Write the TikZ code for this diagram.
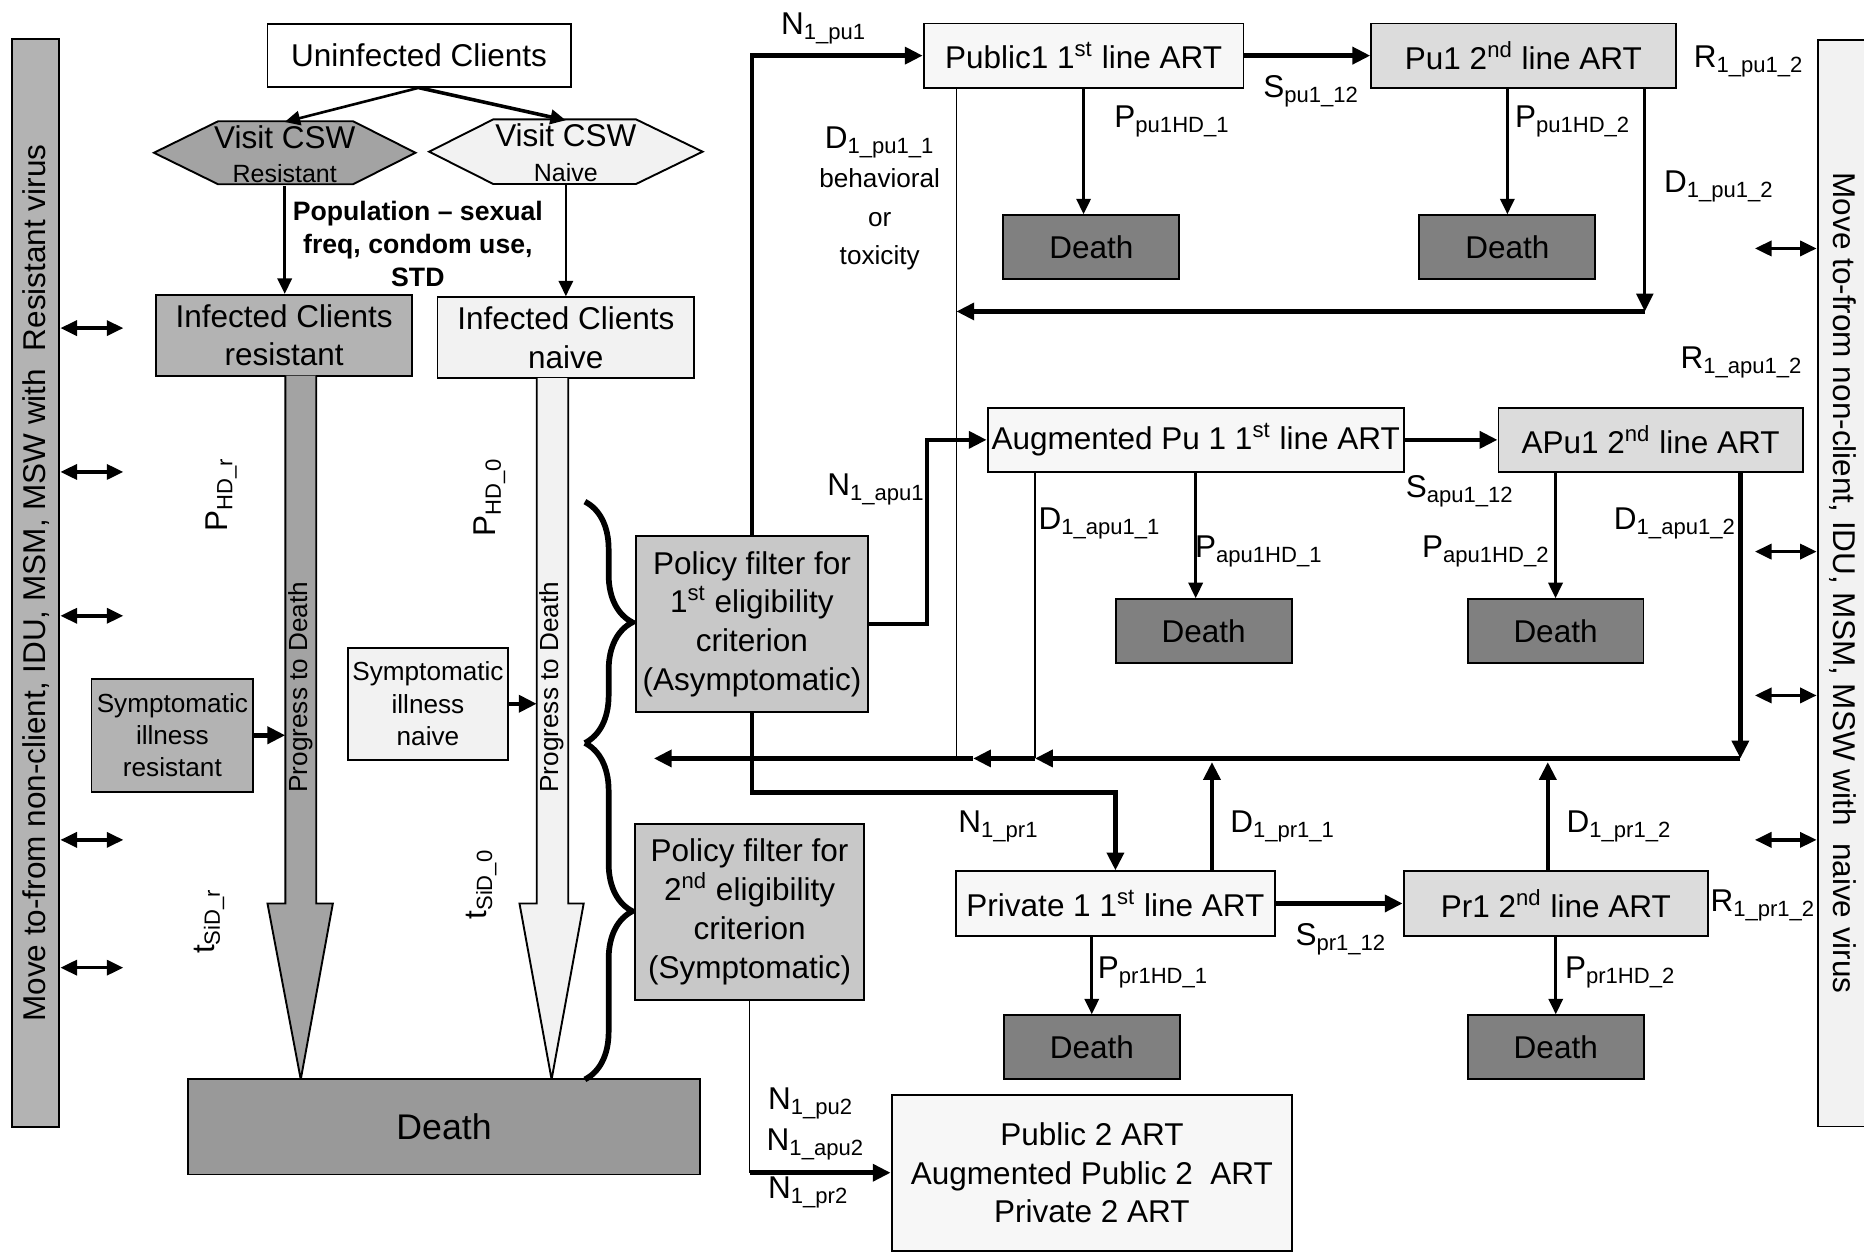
\documentclass[tikz,border=0pt]{standalone}
\usepackage{fontspec}
\setmainfont{Liberation Sans}
\usetikzlibrary{arrows.meta,decorations.pathreplacing}
\definecolor{resist}{RGB}{179,179,179}
\definecolor{resistdark}{RGB}{163,163,163}
\definecolor{naive}{RGB}{242,242,242}
\definecolor{firstline}{RGB}{247,247,247}
\definecolor{secondline}{RGB}{220,220,220}
\definecolor{policy}{RGB}{200,200,200}
\definecolor{deathsmall}{RGB}{128,128,128}
\definecolor{deathbig}{RGB}{153,153,153}
\newcommand\boxfont{\fontsize{13.25}{16.3}\selectfont}
\newcommand\midfont{\fontsize{11}{13.6}\selectfont}
\newcommand\hexfont{\fontsize{10.5}{12}\selectfont}
\newcommand\popfont{\fontsize{11.2}{13.8}\selectfont\bfseries}
\newcommand\bigfont{\fontsize{15}{18}\selectfont}
\tikzset{
    cell/.style = {
        draw,
        line width=0.8pt,
        inner sep=0pt,
        align=center,
        font=\boxfont,
        },
    first line/.style = {
        cell,
        fill = firstline,
        minimum height=27pt,
        },
    second line/.style = {
        cell,
        fill = secondline,
        minimum width=128pt,
        minimum height=27pt,
        },
    death/.style = {
        cell,
        fill = deathsmall,
        minimum width=74pt,
        minimum height=27pt,
        },
    policy box/.style = {
        cell,
        fill = policy,
        minimum height=74pt,
        },
    rate/.style = {
        inner sep=0pt,
        align=center,
        font=\boxfont,
        },
    flow edge/.style = {
        line width=1.9pt,
        -{Triangle[length=7.5pt,width=7pt]},
        },
    drop edge/.style = {
        line width=1.1pt,
        -{Triangle[length=6.5pt,width=6pt]},
        },
    thin edge/.style = {
        line width=0.6pt,
        },
    swap edge/.style = {
        line width=1.5pt,
        {Triangle[length=7pt,width=6.3pt]}-{Triangle[length=7pt,width=6.3pt]},
        },
    shape line/.style = {
        line width=0.8pt,
        },
}
\begin{document}
\begin{tikzpicture}[x=0.5pt, y=-0.5pt]
            \useasboundingbox (0,0) rectangle (1568,1054);

            \node[cell, fill=resist, minimum width=20pt, minimum height=457.5pt] (barL) at (30,490.5) {};
            \node[rate, rotate=90] (barLtext) at (barL) {Move to-from non-client, IDU, MSM, MSW with\ \ Resistant virus};
            \node[cell, fill=naive, minimum width=21pt, minimum height=457pt] (barR) at (1550,490.6) {};
            \node[rate, rotate=-90] (barRtext) at (barR) {Move to-from non-client, IDU, MSM, MSW with\ \ naive virus};

            \node[cell, fill=white, minimum width=127.5pt, minimum height=26.5pt] (uninf) at (352.5,46.5) {Uninfected Clients};
            \draw[shape line, fill=resistdark] (129.5,128.5) -- (183.5,102) -- (297,102) -- (349.5,128.5) -- (297,155) -- (183.5,155) -- cycle;
            \node[rate, minimum height=26.5pt] (visR) at (239.5,129.5) {Visit CSW\\[-1.8pt]{\hexfont Resistant}};
            \draw[shape line, fill=naive] (361,127.6) -- (415,100.4) -- (535,100.4) -- (591,127.6) -- (535,154.8) -- (415,154.8) -- cycle;
            \node[rate, minimum height=27pt] (visN) at (476,128.6) {Visit CSW\\[-1.8pt]{\hexfont Naive}};
            \node[rate, font=\popfont] (pop) at (351.5,205) {Population -- sexual\\freq, condom use,\\STD};
            \node[cell, fill=resist, minimum width=107.5pt, minimum height=34pt] (infR) at (239,282) {Infected Clients\\resistant};
            \node[cell, fill=naive, minimum width=108pt, minimum height=34pt] (infN) at (476,284) {Infected Clients\\naive};

            \draw[shape line, fill=resistdark] (240,316) -- (240,760) -- (225,760) -- (253,908) -- (280,760) -- (266,760) -- (266,316);
            \draw[shape line, fill=naive] (451.5,318) -- (451.5,760) -- (437,760) -- (464,908) -- (491,760) -- (478,760) -- (478,318);
            \node[rate, rotate=90, font=\midfont] (progR) at (253,578) {Progress to Death};
            \node[rate, rotate=90, font=\midfont] (progN) at (464.5,578) {Progress to Death};
            \node[cell, fill=resist, font=\midfont, minimum width=68pt, minimum height=47.5pt] (sympR) at (145,618.5) {Symptomatic\\illness\\resistant};
            \node[cell, fill=naive, font=\midfont, minimum width=67pt, minimum height=47pt] (sympN) at (360,592) {Symptomatic\\illness\\naive};
            \node[cell, fill=deathbig, font=\bigfont, minimum width=215.5pt, minimum height=40pt] (deathB) at (373.5,948) {Death};
            \coordinate (shaftR) at (240,618.5);
            \coordinate (shaftN) at (451.5,592);

            \node[rate, rotate=90] (pHDr) at (186,416) {P\textsubscript{HD\_r}};
            \node[rate, rotate=90] (pHD0) at (412,418) {P\textsubscript{HD\_0}};
            \node[rate, rotate=90] (tSiDr) at (176,775) {t\textsubscript{SiD\_r}};
            \node[rate, rotate=90] (tSiD0) at (405,744) {t\textsubscript{SiD\_0}};

            \draw[line width=2.4pt, decorate, decoration={brace, amplitude=20pt}] (492,422) -- (492,625);
            \draw[line width=2.4pt, decorate, decoration={brace, amplitude=20pt}] (492,625) -- (492,908);
            \node[policy box, minimum width=97.5pt] (pfA) at (632.5,525) {Policy filter for\\1\textsuperscript{st} eligibility\\criterion\\(Asymptomatic)};
            \node[policy box, minimum width=96pt] (pfS) at (630.5,767) {Policy filter for\\2\textsuperscript{nd} eligibility\\criterion\\(Symptomatic)};

            \node[first line, minimum width=134.5pt] (pub1) at (911.5,46.8) {Public1 1\textsuperscript{st} line ART};
            \node[second line] (pu1b) at (1281.5,46.8) {Pu1 2\textsuperscript{nd} line ART};
            \node[death] (deathPu1a) at (918,208) {Death};
            \node[death] (deathPu1b) at (1268,208) {Death};
            \node[first line, minimum width=175pt] (aug1) at (1005.8,370) {Augmented Pu 1 1\textsuperscript{st} line ART};
            \node[second line] (apu1b) at (1388.5,370) {APu1 2\textsuperscript{nd} line ART};
            \node[death] (deathApu1a) at (1012.5,531) {Death};
            \node[death] (deathApu1b) at (1308.5,531) {Death};
            \node[first line, minimum width=134.3pt] (pr1) at (938.3,760) {Private 1 1\textsuperscript{st} line ART};
            \node[second line] (pr1b) at (1308.7,760) {Pr1 2\textsuperscript{nd} line ART};
            \node[death] (deathPr1a) at (918.4,881) {Death};
            \node[death] (deathPr1b) at (1308.7,881) {Death};
            \node[cell, fill=firstline, minimum width=168.5pt, minimum height=65.5pt] (pub2) at (918.5,986.5) {Public 2 ART\\Augmented Public 2\ \ ART\\Private 2 ART};

            \coordinate (dpuC) at (1383.6,262);
            \coordinate (retA) at (804.5,638);
            \coordinate (retM) at (818.6,638);
            \coordinate (retB) at (870.6,638);
            \coordinate (retR) at (1464,638);
            \coordinate (retE) at (550,638);
            \coordinate (upA) at (1019.5,641);
            \coordinate (upB) at (1302,641);
            \coordinate (pfSturn) at (pfS.south |- pub2.west);

            \draw[drop edge] (uninf.south) -- (visR.north);
            \draw[drop edge, line width=1.5pt] (uninf.south) -- (visN.north);
            \draw[drop edge] (visR.south) -- (visR.south |- infR.north);
            \draw[drop edge] (visN.south) -- (visN.south |- infN.north);
            \draw[flow edge] (sympR.east) -- (shaftR);
            \draw[flow edge] (sympN.east) -- (shaftN);

            \draw[swap edge] (barL.east |- 0,276) -- ++(53,0);
            \draw[swap edge] (barL.east |- 0,397) -- ++(53,0);
            \draw[swap edge] (barL.east |- 0,518) -- ++(53,0);
            \draw[swap edge] (barL.east |- 0,706.5) -- ++(53,0);
            \draw[swap edge] (barL.east |- 0,814) -- ++(53,0);
            \draw[swap edge] (barR.west |- 0,209) -- ++(-52,0);
            \draw[swap edge] (barR.west |- 0,464) -- ++(-52,0);
            \draw[swap edge] (barR.west |- 0,585) -- ++(-52,0);
            \draw[swap edge] (barR.west |- 0,706.5) -- ++(-52,0);

            \draw[flow edge] (pfA.north) |- (pub1.west);
            \draw[flow edge] (pfA.east) -- ++(49,0) |- (aug1.west);
            \draw[flow edge] (pfA.south) -- ++(0,67) -| (pr1.north);
            \draw[thin edge] (pfS.south) -- (pfSturn);
            \draw[flow edge] (pfSturn) -- (pub2.west);

            \draw[flow edge] (pub1.east) -- (pu1b.west);
            \draw[flow edge] (aug1.east) -- (apu1b.west);
            \draw[flow edge] (pr1.east) -- (pr1b.west);
            \draw[drop edge] (pub1.south) -- (pub1.south |- deathPu1a.north);
            \draw[drop edge] (deathPu1b.north |- pu1b.south) -- (deathPu1b.north);
            \draw[drop edge] (aug1.south) -- (aug1.south |- deathApu1a.north);
            \draw[drop edge] (deathApu1b.north |- apu1b.south) -- (deathApu1b.north);
            \draw[drop edge] (deathPr1a.north |- pr1.south) -- (deathPr1a.north);
            \draw[drop edge] (pr1b.south) -- (deathPr1b.north);

            \draw[thin edge] (pub1.south -| retA) -- (retA);
            \draw[thin edge] (aug1.south -| retB) -- (retB);
            \draw[flow edge, line width=1.4pt] (pu1b.south -| dpuC) -- (dpuC);
            \draw[flow edge] (dpuC) -- (dpuC -| retA);
            \draw[flow edge] (apu1b.south -| retR) -- (retR);
            \draw[flow edge] (retR) -- (retB);
            \draw[flow edge] (retB) -- (retM);
            \draw[flow edge] (retM) -- (retE);
            \draw[flow edge] (pr1.north -| upA) -- (upA);
            \draw[flow edge] (pr1b.north -| upB) -- (upB);

            \node[rate] (nPu1) at (693,24) {N\textsubscript{1\_pu1}};
            \node[rate] (sPu1) at (1103,77) {S\textsubscript{pu1\_12}};
            \node[rate] (pPu1a) at (986,102) {P\textsubscript{pu1HD\_1}};
            \node[rate] (pPu1b) at (1323,102) {P\textsubscript{pu1HD\_2}};
            \node[rate] (dPu1a) at (740,167) {D\textsubscript{1\_pu1\_1}\\{\midfont behavioral}\\{\midfont or}\\{\midfont toxicity}};
            \node[rate] (dPu1b) at (1446,157) {D\textsubscript{1\_pu1\_2}};
            \node[rate] (rPu1) at (1471,52) {R\textsubscript{1\_pu1\_2}};
            \node[rate] (rApu1) at (1465,305) {R\textsubscript{1\_apu1\_2}};
            \node[rate] (nApu1) at (737,412) {N\textsubscript{1\_apu1}};
            \node[rate] (sApu1) at (1228,413) {S\textsubscript{apu1\_12}};
            \node[rate] (dApu1a) at (925,440) {D\textsubscript{1\_apu1\_1}};
            \node[rate] (pApu1a) at (1059,464) {P\textsubscript{apu1HD\_1}};
            \node[rate] (pApu1b) at (1250,464) {P\textsubscript{apu1HD\_2}};
            \node[rate] (dApu1b) at (1409,440) {D\textsubscript{1\_apu1\_2}};
            \node[rate] (nPr1) at (840,695) {N\textsubscript{1\_pr1}};
            \node[rate] (dPr1a) at (1079,695) {D\textsubscript{1\_pr1\_1}};
            \node[rate] (dPr1b) at (1362,695) {D\textsubscript{1\_pr1\_2}};
            \node[rate] (sPr1) at (1128,790) {S\textsubscript{pr1\_12}};
            \node[rate] (pPr1a) at (970,818) {P\textsubscript{pr1HD\_1}};
            \node[rate] (pPr1b) at (1363,818) {P\textsubscript{pr1HD\_2}};
            \node[rate] (rPr1) at (1483,762) {R\textsubscript{1\_pr1\_2}};
            \node[rate] (nPu2) at (682,928) {N\textsubscript{1\_pu2}};
            \node[rate] (nApu2) at (686,963) {N\textsubscript{1\_apu2}};
            \node[rate] (nPr2) at (680,1003) {N\textsubscript{1\_pr2}};
        \end{tikzpicture}
\end{document}
